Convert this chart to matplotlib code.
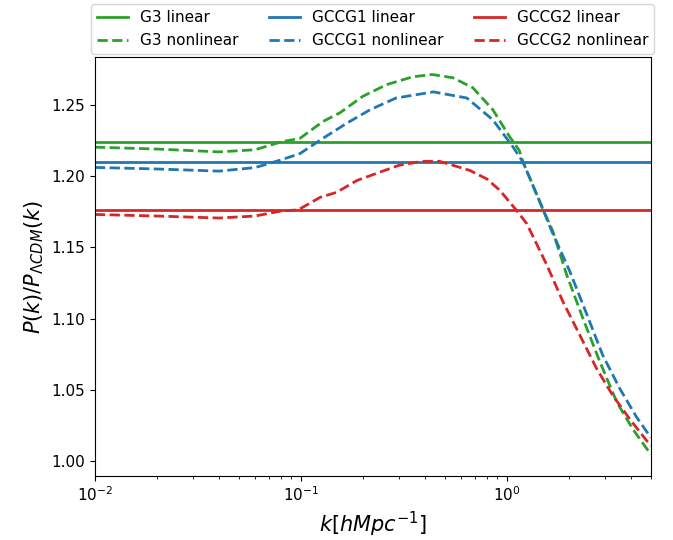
import matplotlib
matplotlib.use("Agg")
import matplotlib.pyplot as plt

# Linear-theory ratios (scale independent)
g3_linear = 1.224
gccg1_linear = 1.2097
gccg2_linear = 1.1765

# Nonlinear ratios P(k)/P_LCDM(k)
k_g3 = [0.01, 0.02, 0.04, 0.06, 0.08, 0.099, 0.128, 0.155, 0.2, 0.261, 0.35, 0.433,
        0.547, 0.684, 0.855, 1.03, 1.15, 1.2, 1.5, 1.67, 1.95, 2.34, 2.83, 3.42, 4.09, 5.0]
g3_nonlinear = [1.2203, 1.219, 1.217, 1.2185, 1.224, 1.2265, 1.2383, 1.2445, 1.256, 1.2642,
                1.2697, 1.2713, 1.269, 1.262, 1.2466, 1.2278, 1.218, 1.2097, 1.1765, 1.1616,
                1.131, 1.1003, 1.0697, 1.0414, 1.0225, 1.0048]

k_gccg1 = [0.01, 0.02, 0.04, 0.06, 0.079, 0.099, 0.128, 0.167, 0.217, 0.29, 0.44, 0.64,
           0.855, 1.07, 1.2, 1.5, 1.65, 2.02, 2.45, 2.92, 3.54, 4.27, 5.0]
gccg1_nonlinear = [1.2061, 1.205, 1.2035, 1.206, 1.2111, 1.2158, 1.2265, 1.2371, 1.2466,
                   1.2548, 1.2591, 1.2548, 1.2395, 1.2206, 1.2097, 1.1765, 1.1616, 1.1333,
                   1.1027, 1.0744, 1.0508, 1.0308, 1.0166]

k_gccg2 = [0.01, 0.02, 0.04, 0.06, 0.08, 0.097, 0.124, 0.149, 0.187, 0.242, 0.30, 0.39,
           0.47, 0.547, 0.661, 0.8, 0.925, 1.034, 1.118, 1.25, 1.56, 1.87, 2.26, 2.73,
           3.27, 3.95, 5.0]
gccg2_nonlinear = [1.1731, 1.172, 1.1706, 1.172, 1.1755, 1.1763, 1.1851, 1.1886, 1.1969,
                   1.2028, 1.2076, 1.2104, 1.2104, 1.2076, 1.204, 1.198, 1.19, 1.1816,
                   1.1757, 1.1666, 1.138, 1.1121, 1.0885, 1.0649, 1.0461, 1.0296, 1.0107]

K_MIN, K_MAX = 0.01, 5.0

fig = plt.figure(figsize=(6.73, 5.40), dpi=100)
ax = fig.add_axes([0.141, 0.1185, 0.826, 0.7755])

lw = 2.0
ax.plot([K_MIN, K_MAX], [g3_linear] * 2, color="tab:green", lw=lw, label="G3 linear")
ax.plot(k_g3, g3_nonlinear, "--", color="tab:green", lw=lw, label="G3 nonlinear")
ax.plot([K_MIN, K_MAX], [gccg1_linear] * 2, color="tab:blue", lw=lw, label="GCCG1 linear")
ax.plot(k_gccg1, gccg1_nonlinear, "--", color="tab:blue", lw=lw, label="GCCG1 nonlinear")
ax.plot([K_MIN, K_MAX], [gccg2_linear] * 2, color="tab:red", lw=lw, label="GCCG2 linear")
ax.plot(k_gccg2, gccg2_nonlinear, "--", color="tab:red", lw=lw, label="GCCG2 nonlinear")

ax.set_xscale("log")
ax.set_xlim(K_MIN, K_MAX)
ax.set_ylim(0.9896, 1.2834)
ax.tick_params(labelsize=11)

ax.set_xlabel(r"$k[hMpc^{-1}]$", fontsize=15)
ax.set_ylabel(r"$P(k)/P_{\Lambda CDM}(k)$", fontsize=15)

ax.legend(ncol=3, loc="lower center", bbox_to_anchor=(0.5, 1.0), fontsize=11,
          borderaxespad=0.2)

fig.savefig("out.png", dpi=100)
